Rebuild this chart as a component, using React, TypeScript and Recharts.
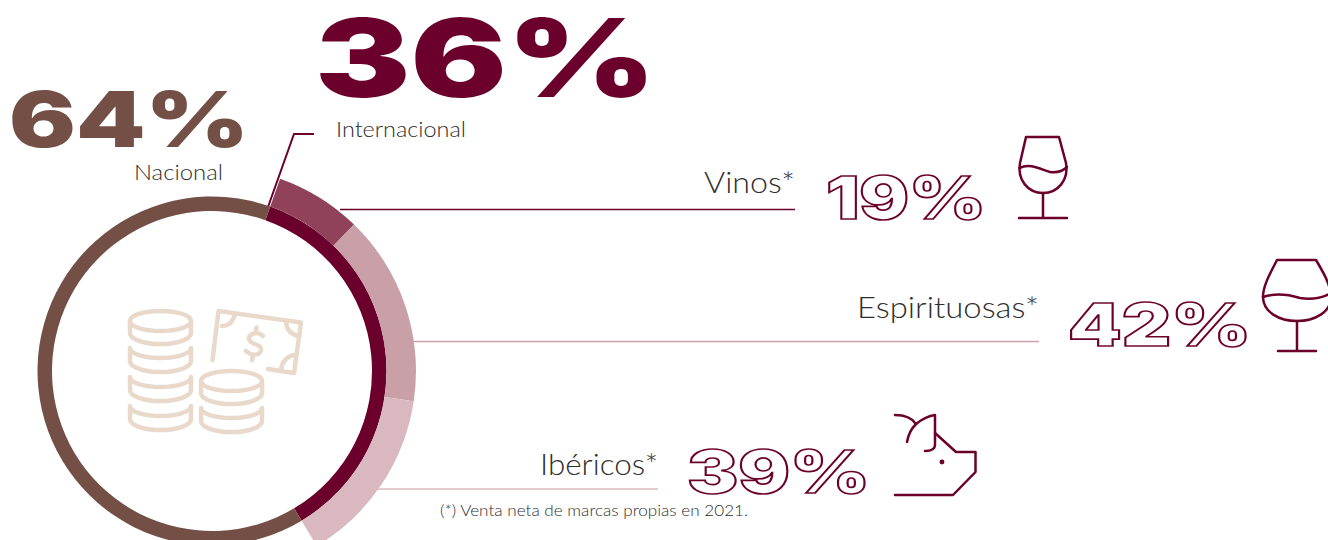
import React from 'react';
import { PieChart, Pie, Cell } from 'recharts';

const splitNames = ['Internacional', 'Nacional'];
const splitValues = [36, 64];
const productNames = ['Vinos*', 'Espirituosas*', 'Ibéricos*'];
const productValues = [19, 42, 39];
const footnote = '(*) Venta neta de marcas propias en 2021.';

const splitData = splitNames.map((name, i) => ({ name, value: splitValues[i] }));
const productData = productNames.map((name, i) => ({ name, value: productValues[i] }));

const DARK = '#6b002c';
const BROWN = '#744f46';
const BEIGE = '#e8d9cb';
const INK = '#2e2e2e';
const productColors = ['#8f425a', '#c9a0a8', '#d9b9bf'];

const CX = 212;
const CY = 371;
const START = 70.5;
// the outer ring only covers the international share
const productSweep = (splitValues[0] / 100) * 360;

const labelFont = 'Lato, "Open Sans", sans-serif';
const bigFont = 'Inter, "DejaVu Sans", sans-serif';

const coinBand = (cx: number, y: number, rx: number) =>
  `M${cx - rx} ${y} A${rx} 10 0 0 0 ${cx + rx} ${y} V${y + 13} A${rx} 11 0 0 1 ${cx - rx} ${y + 13} Z`;

const Coins = () => (
  <g fill="none" stroke={BEIGE} strokeWidth={4.5} strokeLinecap="round" strokeLinejoin="round">
    <ellipse cx={160.5} cy={321} rx={30.5} ry={10} />
    <path d={`M130 321 V333 A30.5 11 0 0 0 191 333 V321`} />
    <path d={coinBand(160.5, 348, 30.5)} />
    <path d={coinBand(160.5, 377, 30.5)} />
    <path d={coinBand(160.5, 406, 30.5)} />
    <ellipse cx={231.5} cy={381} rx={30.5} ry={10} />
    <path d={`M201 381 V393 A30.5 11 0 0 0 262 393 V381`} />
    <path d={coinBand(231.5, 408, 30.5)} />
    <path d="M212.5 360 L218.5 311 L301 322.5 L294 373 L268 369" />
    <path d="M222 326 C229 326 233 322 235 314" />
    <path d="M286 321 C286 329 291 334 298 336" />
    <path d="M281 370 C282 361 288 355 296 355" />
    <path d="M263 336 C258 331 250 333 249 338 C248 345 262 343 261 350 C260 356 251 356 246 351" />
    <path d="M256.5 327.5 L255.5 333 M253 355 L252 360" />
  </g>
);

const WineGlass = () => (
  <g fill="none" stroke={DARK} strokeWidth={2.5} strokeLinecap="round" strokeLinejoin="round">
    <path d="M1026 137 H1059 L1066 163 C1069 180 1058 193 1043 193 C1028 193 1017 180 1020 163 Z" />
    <path d="M1019.5 168 C1030 163 1040 169 1050 172 C1058 173 1064 170 1067 167" />
    <path d="M1043 193 V218 M1019 218 H1067" />
  </g>
);

const BalloonGlass = () => (
  <g fill="none" stroke={DARK} strokeWidth={2.5} strokeLinecap="round" strokeLinejoin="round">
    <path d="M1277 260 H1316 C1322 270 1331 285 1331 297 C1331 312 1315 321 1297 321 C1279 321 1263 312 1263 297 C1263 285 1271 272 1277 260 Z" />
    <path d="M1263 297 C1275 293 1290 295 1300 298 C1312 300 1322 298 1331 293" />
    <path d="M1297 321 V351 M1278 351 H1316" />
  </g>
);

const Pig = () => (
  <g fill="none" stroke={DARK} strokeWidth={2.5} strokeLinecap="round" strokeLinejoin="round">
    <path d="M895 415 C904 415 912 418 916 424 C921 420 927 416 935 415 V445 C935 449 931 451 925 451" />
    <path d="M916 424 C911 429 908 436 907 442" />
    <path d="M935 433 L956 452 H975.5 V472 L953 495 H895" />
    <circle cx={942} cy={462} r={1.2} fill={DARK} />
  </g>
);

export default function App() {
  return (
    <div style={{ position: 'absolute', left: 0, top: 0, width: 1328, height: 540, overflow: 'hidden', background: '#fff' }}>
      <PieChart width={1328} height={540} margin={{ top: 0, right: 0, bottom: 0, left: 0 }}>
        <Pie
          data={splitData}
          dataKey="value"
          nameKey="name"
          cx={CX}
          cy={CY}
          innerRadius={160}
          outerRadius={174.5}
          startAngle={START}
          endAngle={START - 360}
          stroke="none"
          isAnimationActive={false}
        >
          <Cell fill={DARK} />
          <Cell fill={BROWN} />
        </Pie>
        <Pie
          data={productData}
          dataKey="value"
          nameKey="name"
          cx={CX}
          cy={CY}
          innerRadius={174.5}
          outerRadius={204}
          startAngle={START}
          endAngle={START - productSweep}
          stroke="none"
          isAnimationActive={false}
        >
          {productColors.map((c) => (
            <Cell key={c} fill={c} />
          ))}
        </Pie>

        {/* leader lines */}
        <path d="M268 207 L294 134 H314" fill="none" stroke={DARK} strokeWidth={2} />
        <line x1={340} y1={209.5} x2={795} y2={209.5} stroke={DARK} strokeWidth={1.5} />
        <line x1={414} y1={341.5} x2={1039} y2={341.5} stroke={productColors[1]} strokeWidth={1.5} />
        <line x1={376} y1={489} x2={658} y2={489} stroke={productColors[2]} strokeWidth={1.5} />

        {/* headline shares */}
        <text x={315} y={97} fontFamily={bigFont} fontWeight={900} fontSize={108} fill={DARK} textLength={341} lengthAdjust="spacingAndGlyphs">
          {splitValues[0]}%
        </text>
        <text x={9} y={147} fontFamily={bigFont} fontWeight={900} fontSize={77} fill={BROWN} textLength={240} lengthAdjust="spacingAndGlyphs">
          {splitValues[1]}%
        </text>
        <text x={336} y={137} fontFamily={labelFont} fontWeight={300} fontSize={22} fill={INK} textLength={130} lengthAdjust="spacingAndGlyphs">
          {splitNames[0]}
        </text>
        <text x={134} y={180} fontFamily={labelFont} fontWeight={300} fontSize={22} fill={INK} textLength={89} lengthAdjust="spacingAndGlyphs">
          {splitNames[1]}
        </text>

        {/* product labels */}
        <text x={704} y={193} fontFamily={labelFont} fontWeight={300} fontSize={30} fill={INK} textLength={91} lengthAdjust="spacingAndGlyphs">
          {productNames[0]}
        </text>
        <text x={857} y={318} fontFamily={labelFont} fontWeight={300} fontSize={30} fill={INK} textLength={182} lengthAdjust="spacingAndGlyphs">
          {productNames[1]}
        </text>
        <text x={540} y={475} fontFamily={labelFont} fontWeight={300} fontSize={30} fill={INK} textLength={118} lengthAdjust="spacingAndGlyphs">
          {productNames[2]}
        </text>

        {/* outlined percentages */}
        <text x={826} y={219} fontFamily={bigFont} fontWeight={900} fontSize={59} fill="#fff" stroke={DARK} strokeWidth={1.7} textLength={160} lengthAdjust="spacingAndGlyphs">
          {productValues[0]}%
        </text>
        <text x={1068} y={346} fontFamily={bigFont} fontWeight={900} fontSize={59} fill="#fff" stroke={DARK} strokeWidth={1.7} textLength={183} lengthAdjust="spacingAndGlyphs">
          {productValues[1]}%
        </text>
        <text x={687} y={493} fontFamily={bigFont} fontWeight={900} fontSize={59} fill="#fff" stroke={DARK} strokeWidth={1.7} textLength={183} lengthAdjust="spacingAndGlyphs">
          {productValues[2]}%
        </text>

        <text x={440} y={516} fontFamily={labelFont} fontWeight={300} fontSize={16} fill={INK} textLength={308} lengthAdjust="spacingAndGlyphs">
          {footnote}
        </text>

        <Coins />
        <WineGlass />
        <BalloonGlass />
        <Pig />
      </PieChart>
    </div>
  );
}
